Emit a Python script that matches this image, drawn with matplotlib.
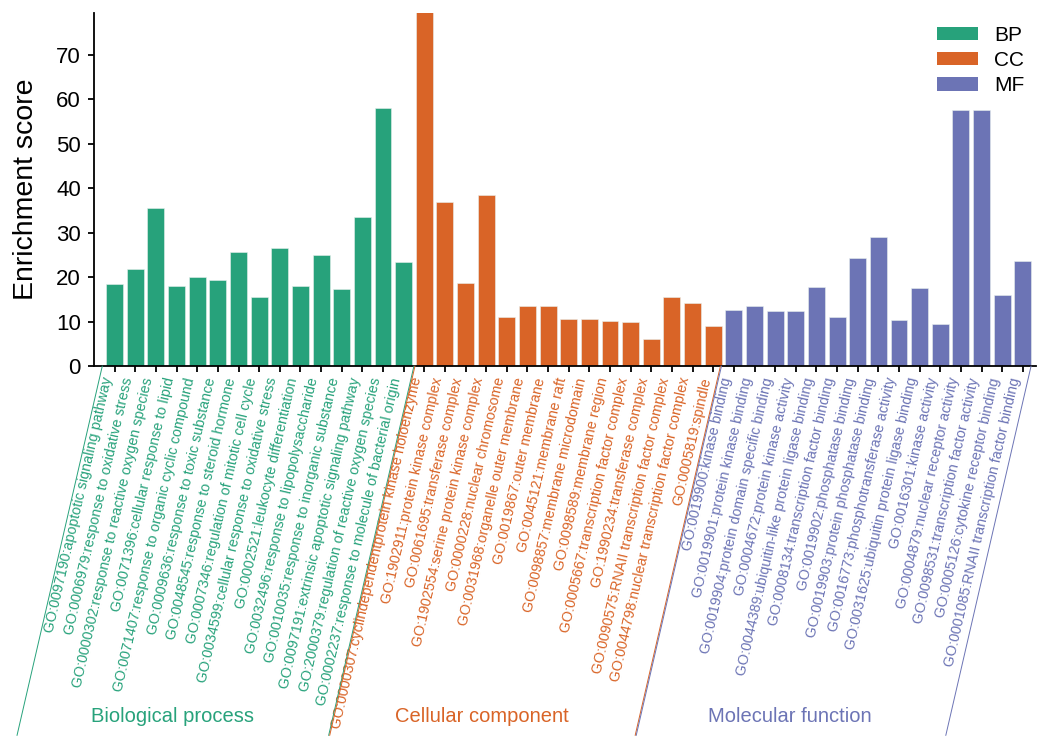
import numpy as np
import matplotlib
matplotlib.use('Agg')
import matplotlib.pyplot as plt
from matplotlib.patches import Patch

plt.rcParams['font.family'] = ['Liberation Sans', 'DejaVu Sans']

# GO terms for each category
bp_terms = ['GO:0097190:apoptotic signaling pathway',
            'GO:0006979:response to oxidative stress',
            'GO:0000302:response to reactive oxygen species',
            'GO:0071396:cellular response to lipid',
            'GO:0071407:response to organic cyclic compound',
            'GO:0009636:response to toxic substance',
            'GO:0048545:response to steroid hormone',
            'GO:0007346:regulation of mitotic cell cycle',
            'GO:0034599:cellular response to oxidative stress',
            'GO:0002521:leukocyte differentiation',
            'GO:0032496:response to lipopolysaccharide',
            'GO:0010035:response to inorganic substance',
            'GO:0097191:extrinsic apoptotic signaling pathway',
            'GO:2000379:regulation of reactive oxygen species',
            'GO:0002237:response to molecule of bacterial origin']
cc_terms = ['GO:0000307:cyclindependentprotein kinase holoenzyme',
            'GO:1902911:protein kinase complex',
            'GO:0061695:transferase complex',
            'GO:1902554:serine protein kinase complex',
            'GO:0000228:nuclear chromosome',
            'GO:0031968:organelle outer membrane',
            'GO:0019867:outer membrane',
            'GO:0045121:membrane raft',
            'GO:0098857:membrane microdomain',
            'GO:0098589:membrane region',
            'GO:0005667:transcription factor complex',
            'GO:1990234:transferase complex',
            'GO:0090575:RNAII transcription factor complex',
            'GO:0044798:nuclear transcription factor complex',
            'GO:0005819:spindle']
mf_terms = ['GO:0019900:kinase binding',
            'GO:0019901:protein kinase binding',
            'GO:0019904:protein domain specific binding',
            'GO:0004672:protein kinase activity',
            'GO:0044389:ubiquitin-like protein ligase binding',
            'GO:0008134:transcription factor binding',
            'GO:0019902:phosphatase binding',
            'GO:0019903:protein phosphatase binding',
            'GO:0016773:phosphotransferase activity',
            'GO:0031625:ubiquitin protein ligase binding',
            'GO:0016301:kinase activity',
            'GO:0004879:nuclear receptor activity',
            'GO:0098531:transcription factor activity',
            'GO:0005126:cytokine receptor binding',
            'GO:0001085:RNAII transcription factor binding']

# enrichment scores
bp_scores = [18.4, 21.8, 35.5, 18.1, 20.0, 19.4, 25.7, 15.6, 26.6, 17.9, 24.9, 17.3, 33.5, 58.1, 23.5]
cc_scores = [80.0, 37.0, 18.6, 38.4, 11.1, 13.6, 13.4, 10.5, 10.5, 10.1, 9.9, 6.0, 15.6, 14.2, 8.9]
mf_scores = [12.6, 13.6, 12.4, 12.4, 17.8, 11.0, 24.4, 29.0, 10.4, 17.6, 9.5, 57.6, 57.6, 15.9, 23.7]

groups = ['BP', 'CC', 'MF']
group_names = ['Biological process', 'Cellular component', 'Molecular function']
colors = ['#27A27B', '#D96427', '#6C74B5']

terms = [bp_terms, cc_terms, mf_terms]
scores = [bp_scores, cc_scores, mf_scores]

fig = plt.figure(figsize=(10.38, 7.36), dpi=100)
ax = fig.add_axes([0.0906, 0.5027, 0.9075, 0.4796])

#Draw bars group by group
start = 0
all_labels = []
label_colors = []
for g in range(3):
    x = np.arange(start, start + len(scores[g]))
    ax.bar(x, scores[g], width=0.82, color=colors[g], edgecolor='#e8f0ee', linewidth=0.4)
    all_labels += terms[g]
    label_colors += [colors[g]] * len(terms[g])
    start += len(scores[g])

n = len(all_labels)
ax.set_xlim(-1, n - 0.36)
ax.set_ylim(0, 79.45)
ax.set_yticks(np.arange(0, 80, 10))

ax.set_xticks(np.arange(n))
ax.set_xticklabels(all_labels, rotation=77, ha='right', va='bottom',
                   rotation_mode='anchor', fontsize=10.3)
for lab, c in zip(ax.get_xticklabels(), label_colors):
    lab.set_color(c)

ax.tick_params(axis='x', length=4.5, width=1.3, pad=5)
ax.tick_params(axis='y', length=4.5, width=1.3, pad=5, labelsize=16)

ax.spines['top'].set_visible(False)
ax.spines['right'].set_visible(False)
ax.spines['left'].set_linewidth(1.3)
ax.spines['bottom'].set_linewidth(1.3)

ax.set_ylabel('Enrichment score', fontsize=20.5)
ax.yaxis.set_label_coords(-0.058, 0.5)

#Slanted separators and group titles below the tick labels
ang = np.deg2rad(77)
drop = 266.0
bounds = [(-0.6, 14.5), (14.55, 29.35), (29.4, 44.4)]
for g in range(3):
    for b in bounds[g]:
        ax.annotate('', xy=(b, 0), xycoords=('data', 'axes fraction'),
                    xytext=(-drop / np.tan(ang), -drop), textcoords='offset points',
                    annotation_clip=False,
                    arrowprops=dict(arrowstyle='-', color=colors[g], lw=0.7,
                                    shrinkA=0, shrinkB=0))
    center = (bounds[g][0] + bounds[g][1]) / 2
    ax.annotate(group_names[g], xy=(center, 0), xycoords=('data', 'axes fraction'),
                xytext=(-62, -252), textcoords='offset points',
                ha='center', va='center', fontsize=14.5, color=colors[g],
                annotation_clip=False)

handles = [Patch(facecolor=colors[g], label=groups[g]) for g in range(3)]
ax.legend(handles=handles, loc='upper left', bbox_to_anchor=(0.9024, 0.965),
          bbox_transform=fig.transFigure, frameon=False, fontsize=15,
          handlelength=2.0, handleheight=0.62, handletextpad=0.75,
          labelspacing=0.3, borderpad=0, borderaxespad=0)

plt.savefig('out.png', dpi=100)
